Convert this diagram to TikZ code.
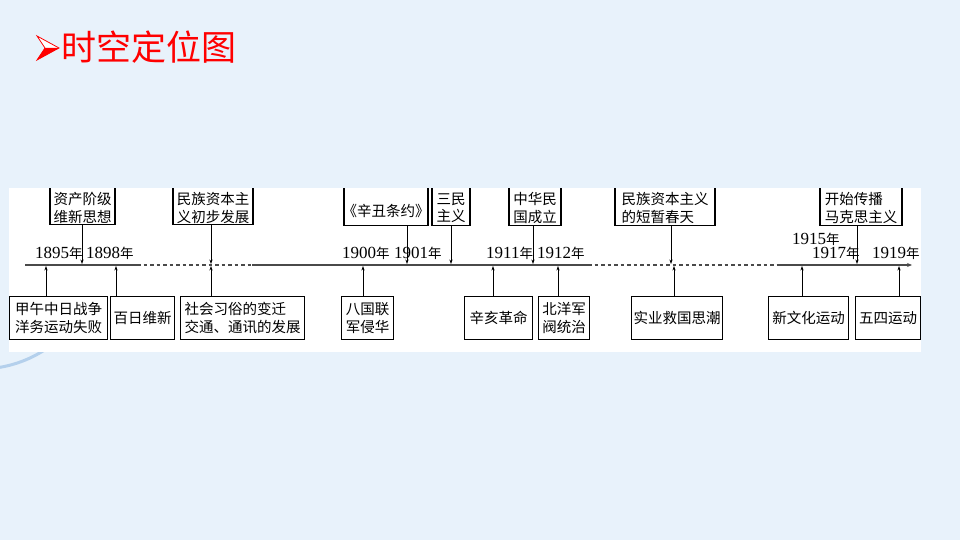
\documentclass[tikz,border=0pt]{standalone}
\usepackage{fontspec}
\setmainfont{Liberation Serif}
\newfontfamily\cjk{Noto Sans CJK SC}
\usetikzlibrary{arrows.meta}
\definecolor{bgblue}{HTML}{E8F2FB}
\definecolor{arcblue}{HTML}{B4D0EC}
\definecolor{linegray}{HTML}{4A4A4A}
\definecolor{titlered}{HTML}{FF0000}
\newcommand{\yr}[1]{{\fontsize{17}{19}\selectfont #1}{\cjk\fontsize{13.5}{15}\selectfont 年}}
\tikzset{
  boxframe/.style={draw=black, line width=1.1pt, inner sep=0pt},
  boxtext/.style={font=\cjk\fontsize{14.5}{17.5}\selectfont, align=left, inner sep=0pt},
  yearlabel/.style={inner sep=0pt, anchor=base west},
  tickarrow/.style={draw=black, line width=0.8pt, -{Stealth[length=4.5pt,width=3.2pt]}},
  mainline/.style={draw=linegray, line width=2.2pt},
  dashline/.style={draw=linegray, line width=2.2pt, dash pattern=on 3.5pt off 3pt}
}
\begin{document}
\begin{tikzpicture}[x=1pt,y=-1pt]
\useasboundingbox (0,0) rectangle (960,540);
\fill[bgblue] (0,0) rectangle (960,540);
% decorative arc (only its lower end shows beside the panel)
\draw[arcblue, line width=3pt] (-20,250) ++(50:119) arc[start angle=50, end angle=100, radius=119];
% title
\draw[titlered, line width=0.8pt, fill=white] (37,36) -- (59,48) -- (37,60) -- (45,48) -- cycle;
\fill[titlered] (45,48) -- (59,48) -- (37,60) -- cycle;
\node[anchor=base west, inner sep=0pt, text=titlered, font=\cjk\fontsize{35}{40}\selectfont] (title) at (61,61) {时空定位图};
% white panel
\fill[white] (9,188) rectangle (921,352);
% timeline coordinates
\coordinate (L0) at (25,265);
\coordinate (L1) at (137,265);
\coordinate (L2) at (252,265);
\coordinate (L3) at (588,265);
\coordinate (L4) at (777,265);
\coordinate (L5) at (912,265);
\draw[mainline] (L0) -- (L1);
\draw[dashline] (L1) -- (L2);
\draw[mainline] (L2) -- (L3);
\draw[dashline] (L3) -- (L4);
\draw[mainline, -{Stealth[length=5pt,width=4pt]}] (L4) -- (L5);
% top boxes (clipped at panel top)
\begin{scope}
\clip (9,188) rectangle (921,352);
\node[boxframe, minimum width=65pt, minimum height=60pt, anchor=south] (T1) at (82.5,225) {};
\node[boxframe, minimum width=80pt, minimum height=60pt, anchor=south] (T2) at (213,225) {};
\node[boxframe, minimum width=84pt, minimum height=60pt, anchor=south] (T3) at (386,226) {};
\node[boxframe, minimum width=38pt, minimum height=60pt, anchor=south] (T4) at (451,226) {};
\node[boxframe, minimum width=52pt, minimum height=60pt, anchor=south] (T5) at (535,226) {};
\node[boxframe, minimum width=100pt, minimum height=60pt, anchor=south] (T6) at (665,226) {};
\node[boxframe, minimum width=82pt, minimum height=60pt, anchor=south] (T7) at (861,226) {};
\end{scope}
\node[boxtext] (t1) at (T1.south |- 0,208) {资产阶级\\维新思想};
\node[boxtext] (t2) at (T2.south |- 0,208) {民族资本主\\义初步发展};
\node[boxtext] (t3) at (T3.south |- 0,211) {《辛丑条约》};
\node[boxtext] (t4) at (T4.south |- 0,208) {三民\\主义};
\node[boxtext] (t5) at (T5.south |- 0,208) {中华民\\国成立};
\node[boxtext] (t6) at (T6.south |- 0,208) {民族资本主义\\的短暂春天};
\node[boxtext] (t7) at (T7.south |- 0,208) {开始传播\\马克思主义};
% bottom boxes
\node[boxframe, minimum width=98pt, minimum height=43pt, anchor=north west] (B1) at (9,296) {};
\node[boxframe, minimum width=64pt, minimum height=43pt, anchor=north west] (B2) at (110,296) {};
\node[boxframe, minimum width=124pt, minimum height=43pt, anchor=north west] (B3) at (180,296) {};
\node[boxframe, minimum width=52pt, minimum height=43pt, anchor=north west] (B4) at (341,296) {};
\node[boxframe, minimum width=68pt, minimum height=43pt, anchor=north west] (B5) at (464,296) {};
\node[boxframe, minimum width=51pt, minimum height=43pt, anchor=north west] (B6) at (538,296) {};
\node[boxframe, minimum width=91pt, minimum height=43pt, anchor=north west] (B7) at (631,296) {};
\node[boxframe, minimum width=80pt, minimum height=43pt, anchor=north west] (B8) at (768,296) {};
\node[boxframe, minimum width=65pt, minimum height=43pt, anchor=north west] (B9) at (855,296) {};
\node[boxtext] (b1) at (B1.center) {甲午中日战争\\洋务运动失败};
\node[boxtext] (b2) at (B2.center) {百日维新};
\node[boxtext] (b3) at (B3.center) {社会习俗的变迁\\交通、通讯的发展};
\node[boxtext] (b4) at (B4.center) {八国联\\军侵华};
\node[boxtext] (b5) at (B5.center) {辛亥革命};
\node[boxtext] (b6) at (B6.center) {北洋军\\阀统治};
\node[boxtext] (b7) at (B7.center) {实业救国思潮};
\node[boxtext] (b8) at (B8.center) {新文化运动};
\node[boxtext] (b9) at (B9.center) {五四运动};
% points on the line
\coordinate (u1) at (82,264);
\coordinate (u2) at (211,264);
\coordinate (u3) at (407,264);
\coordinate (u4) at (451,264);
\coordinate (u5) at (533,264);
\coordinate (u6) at (671,264);
\coordinate (u7) at (857,264);
\coordinate (d1) at (46,266);
\coordinate (d2) at (116,266);
\coordinate (d3) at (211,266);
\coordinate (d4) at (363,266);
\coordinate (d5) at (493,266);
\coordinate (d6) at (558,266);
\coordinate (d7) at (674,266);
\coordinate (d8) at (802,266);
\coordinate (d9) at (899,266);
% down arrows
\foreach \i in {1,...,7} { \draw[tickarrow] (T\i.south -| u\i) -- (u\i); }
% up arrows
\foreach \i in {1,...,9} { \draw[tickarrow] (B\i.north -| d\i) -- (d\i); }
% year labels
\node[yearlabel] (y1895) at (35,258) {\yr{1895}};
\node[yearlabel] (y1898) at (86,258) {\yr{1898}};
\node[yearlabel] (y1900) at (342,258) {\yr{1900}};
\node[yearlabel] (y1901) at (394,258) {\yr{1901}};
\node[yearlabel] (y1911) at (486,258) {\yr{1911}};
\node[yearlabel] (y1912) at (537,258) {\yr{1912}};
\node[yearlabel] (y1915) at (792,244) {\yr{1915}};
\node[yearlabel] (y1917) at (812,258) {\yr{1917}};
\node[yearlabel] (y1919) at (872,258) {\yr{1919}};
\end{tikzpicture}
\end{document}
